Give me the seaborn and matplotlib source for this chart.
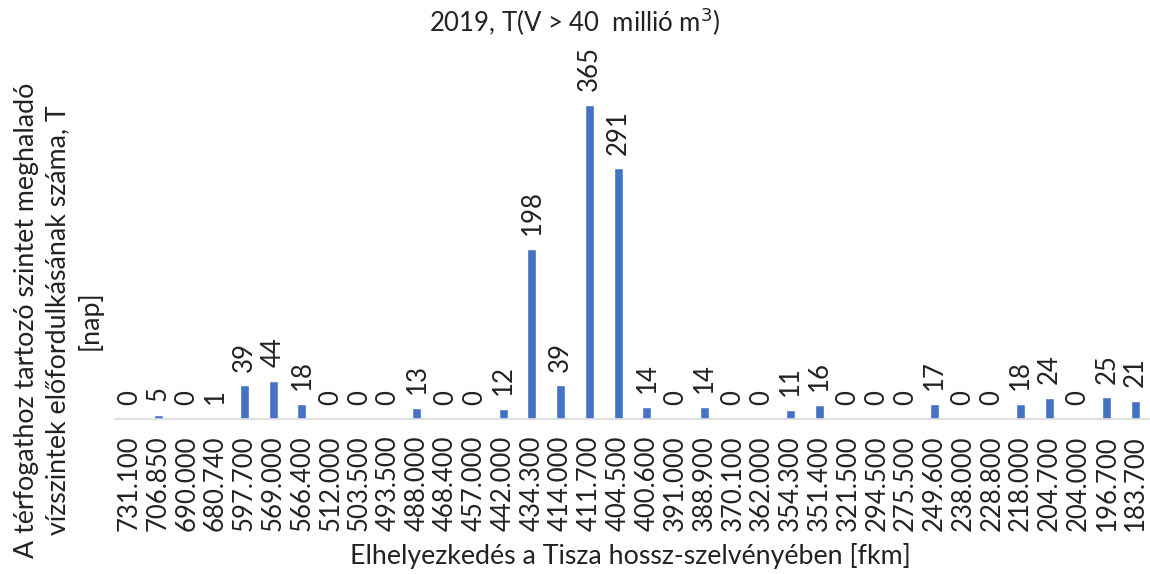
import matplotlib
matplotlib.use("Agg")
import matplotlib.pyplot as plt
import seaborn as sns
import pandas as pd

# Tisza szelvények (fkm) és napok száma
fkm = ["731.100", "706.850", "690.000", "680.740", "597.700", "569.000", "566.400",
       "512.000", "503.500", "493.500", "488.000", "468.400", "457.000", "442.000",
       "434.300", "414.000", "411.700", "404.500", "400.600", "391.000", "388.900",
       "370.100", "362.000", "354.300", "351.400", "321.500", "294.500", "275.500",
       "249.600", "238.000", "228.800", "218.000", "204.700", "204.000", "196.700",
       "183.700"]
napok = [0, 5, 0, 1, 39, 44, 18, 0, 0, 0, 13, 0, 0, 12, 198, 39, 365, 291, 14, 0,
         14, 0, 0, 11, 16, 0, 0, 0, 17, 0, 0, 18, 24, 0, 25, 21]

df = pd.DataFrame({"fkm": fkm, "napok": napok})

sns.set_style("white")
plt.rcParams["font.family"] = ["Lato", "DejaVu Sans"]

fs = 18.5
txt = "#222222"

fig = plt.figure(figsize=(11.5, 5.74), dpi=100)
ax = fig.add_axes([0.1, 0.27, 0.9, 0.66])

sns.barplot(data=df, x="fkm", y="napok", color="#4472C4", width=0.32,
            saturation=1, ax=ax)

ax.set_xlim(-0.5, len(fkm) - 0.5)
ax.set_ylim(0, 440)
ax.set_yticks([])
for s in ["top", "right", "left"]:
    ax.spines[s].set_visible(False)
ax.spines["bottom"].set_color("#D9D9D9")
ax.spines["bottom"].set_linewidth(1.2)
ax.tick_params(axis="x", length=0, pad=12, labelsize=fs, labelcolor=txt)
plt.setp(ax.get_xticklabels(), rotation=90)

# adatfeliratok
for i, v in enumerate(napok):
    ax.annotate(str(v), (i, v), xytext=(0, 10), textcoords="offset points",
                rotation=90, ha="center", va="bottom", fontsize=fs, color=txt)

ax.set_ylabel("")
ax.set_xlabel("")
fig.text(0.5, 1 - 22 / 574, "2019, T(V > 40  millió m$^3$)", fontsize=fs,
         color=txt, ha="center", va="center")
fig.text(0.548, 1 - 556 / 574, "Elhelyezkedés a Tisza hossz-szelvényében [fkm]",
         fontsize=19.3, color=txt, ha="center", va="center")
fig.text(58 / 1150, 1 - 320 / 574,
         "A térfogathoz tartozó szintet meghaladó\n"
         "vízszintek előfordulkásának száma, T\n[nap]",
         fontsize=19.3, color=txt, rotation=90, ha="center", va="center",
         multialignment="center", linespacing=1.3)

fig.savefig("out.png", dpi=100)
